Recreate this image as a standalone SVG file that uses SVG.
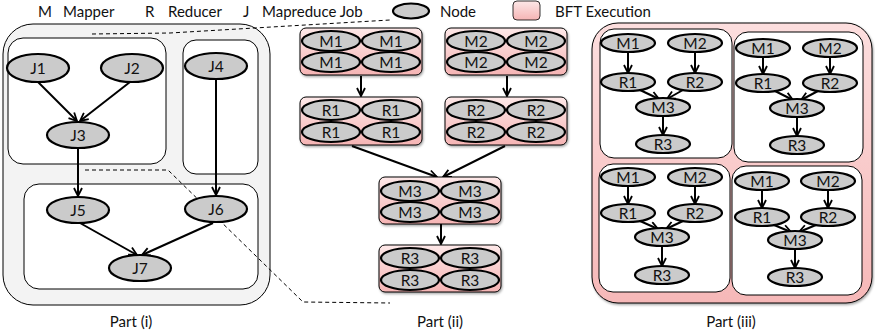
<svg xmlns="http://www.w3.org/2000/svg" width="875" height="333" viewBox="0 0 875 333">
  <style>
    text { font-family: Lato, "Open Sans", "Liberation Sans", sans-serif; fill: #111; }
    .hdr { font-size: 15px; }
    .cap { font-size: 15px; text-anchor: middle; }
    .lbl { font-size: 15.5px; text-anchor: middle; dominant-baseline: central; }
    .lbl2 { font-size: 15.5px; text-anchor: middle; dominant-baseline: central; }
    .node { fill: #cbcbcb; stroke: #000; stroke-width: 2.2; }
    .panel { fill: #fff; stroke: #000; stroke-width: 1; }
    .outer1 { fill: #f3f3f3; stroke: #000; stroke-width: 1; }
    .bft { fill: url(#pink); stroke: #000; stroke-width: 1; filter: url(#shadow); }
    .edge { stroke: #000; stroke-width: 2; fill: none; marker-end: url(#arrow); }
    .dash { stroke: #000; stroke-width: 1; fill: none; stroke-dasharray: 4 3; }
  </style>
  <defs>
    <linearGradient id="pink" x1="0" y1="0" x2="0" y2="1">
      <stop offset="0" stop-color="#fde8e8"/>
      <stop offset="1" stop-color="#f5b4b4"/>
    </linearGradient>
    <linearGradient id="pinkBig" x1="0" y1="0" x2="0" y2="1">
      <stop offset="0" stop-color="#fcdede"/>
      <stop offset="1" stop-color="#f6b8b8"/>
    </linearGradient>
    <filter id="shadow" x="-10%" y="-10%" width="125%" height="130%">
      <feDropShadow dx="1" dy="1.5" stdDeviation="1" flood-color="#000" flood-opacity="0.35"/>
    </filter>
    <marker id="arrow" viewBox="0 0 10 10" refX="9" refY="5" markerWidth="10" markerHeight="10" markerUnits="userSpaceOnUse" orient="auto">
      <path d="M1,1 L9,5 L1,9" fill="none" stroke="#000" stroke-width="1.8"/>
    </marker>
  </defs>

  <!-- legend -->
  <g id="legend">
    <text class="hdr" x="38" y="17">M</text>
    <text class="hdr" x="63" y="17">Mapper</text>
    <text class="hdr" x="145" y="17">R</text>
    <text class="hdr" x="168" y="17">Reducer</text>
    <text class="hdr" x="243" y="17">J</text>
    <text class="hdr" x="262" y="17">Mapreduce Job</text>
    <ellipse class="node" cx="411" cy="11" rx="18" ry="7.5"/>
    <text class="hdr" x="440" y="17">Node</text>
    <rect x="513" y="1" width="27" height="19" rx="4" fill="url(#pink)" stroke="#000" stroke-width="0.8"/>
    <text class="hdr" x="555" y="17">BFT Execution</text>
  </g>

  <!-- Part (i): job DAG -->
  <g id="part1">
    <rect class="outer1" x="3" y="24" width="267" height="281" rx="30"/>
    <rect class="panel" x="8" y="38" width="158" height="126" rx="15"/>
    <rect class="panel" x="183" y="40" width="75" height="134" rx="13"/>
    <rect class="panel" x="24" y="184" width="234" height="105" rx="15"/>
  </g>

  <!-- zoom guide lines -->
  <g id="guides">
    <polyline class="dash" points="92,34 170,33 390,20"/>
    <polyline class="dash" points="85,170 168,170 303,302 390,303"/>
  </g>

  <g id="connectors">
    <!-- part (i) -->
    <line class="edge" x1="38" y1="82" x2="77" y2="121"/>
    <line class="edge" x1="130" y1="82" x2="80" y2="121"/>
    <line class="edge" x1="78" y1="148" x2="78" y2="196"/>
    <line class="edge" x1="216" y1="79" x2="216" y2="195"/>
    <line class="edge" x1="80" y1="223" x2="137" y2="255"/>
    <line class="edge" x1="213" y1="223" x2="142" y2="255"/>
    <!-- part (ii) -->
    <line class="edge" x1="361" y1="76" x2="361" y2="96"/>
    <line class="edge" x1="507" y1="76" x2="507" y2="96"/>
    <line class="edge" x1="352" y1="146" x2="437" y2="177"/>
    <line class="edge" x1="505" y1="146" x2="443" y2="177"/>
    <line class="edge" x1="441" y1="224" x2="441" y2="244"/>
  </g>

  <g id="J1"><ellipse class="node" cx="38" cy="68" rx="31" ry="14"/><text class="lbl" x="38" y="68">J1</text></g>
  <g id="J2"><ellipse class="node" cx="132" cy="68" rx="31" ry="14"/><text class="lbl" x="132" y="68">J2</text></g>
  <g id="J3"><ellipse class="node" cx="78" cy="135" rx="31" ry="13"/><text class="lbl" x="78" y="135">J3</text></g>
  <g id="J4"><ellipse class="node" cx="216" cy="66" rx="31" ry="13"/><text class="lbl" x="216" y="66">J4</text></g>
  <g id="J5"><ellipse class="node" cx="78" cy="210" rx="31" ry="13"/><text class="lbl" x="78" y="210">J5</text></g>
  <g id="J6"><ellipse class="node" cx="216" cy="209" rx="31" ry="13"/><text class="lbl" x="216" y="209">J6</text></g>
  <g id="J7"><ellipse class="node" cx="140" cy="268" rx="31" ry="13"/><text class="lbl" x="140" y="268">J7</text></g>

  <!-- Part (ii): BFT replicas -->
  <g id="M1x4">
    <rect class="bft" x="300" y="28" width="122" height="47" rx="6"/>
    <ellipse class="node" cx="331" cy="41" rx="29" ry="10"/><text class="lbl2" x="331" y="41">M1</text>
    <ellipse class="node" cx="391" cy="41" rx="29" ry="10"/><text class="lbl2" x="391" y="41">M1</text>
    <ellipse class="node" cx="331" cy="62" rx="29" ry="10"/><text class="lbl2" x="331" y="62">M1</text>
    <ellipse class="node" cx="391" cy="62" rx="29" ry="10"/><text class="lbl2" x="391" y="62">M1</text>
  </g>
  <g id="M2x4">
    <rect class="bft" x="445" y="28" width="122" height="47" rx="6"/>
    <ellipse class="node" cx="476" cy="41" rx="29" ry="10"/><text class="lbl2" x="476" y="41">M2</text>
    <ellipse class="node" cx="536" cy="41" rx="29" ry="10"/><text class="lbl2" x="536" y="41">M2</text>
    <ellipse class="node" cx="476" cy="62" rx="29" ry="10"/><text class="lbl2" x="476" y="62">M2</text>
    <ellipse class="node" cx="536" cy="62" rx="29" ry="10"/><text class="lbl2" x="536" y="62">M2</text>
  </g>
  <g id="R1x4">
    <rect class="bft" x="300" y="97" width="122" height="48" rx="6"/>
    <ellipse class="node" cx="331" cy="110" rx="29" ry="10"/><text class="lbl2" x="331" y="110">R1</text>
    <ellipse class="node" cx="391" cy="110" rx="29" ry="10"/><text class="lbl2" x="391" y="110">R1</text>
    <ellipse class="node" cx="331" cy="132" rx="29" ry="10"/><text class="lbl2" x="331" y="132">R1</text>
    <ellipse class="node" cx="391" cy="132" rx="29" ry="10"/><text class="lbl2" x="391" y="132">R1</text>
  </g>
  <g id="R2x4">
    <rect class="bft" x="445" y="97" width="122" height="48" rx="6"/>
    <ellipse class="node" cx="476" cy="110" rx="29" ry="10"/><text class="lbl2" x="476" y="110">R2</text>
    <ellipse class="node" cx="536" cy="110" rx="29" ry="10"/><text class="lbl2" x="536" y="110">R2</text>
    <ellipse class="node" cx="476" cy="132" rx="29" ry="10"/><text class="lbl2" x="476" y="132">R2</text>
    <ellipse class="node" cx="536" cy="132" rx="29" ry="10"/><text class="lbl2" x="536" y="132">R2</text>
  </g>
  <g id="M3x4">
    <rect class="bft" x="379" y="177" width="122" height="47" rx="6"/>
    <ellipse class="node" cx="410" cy="191" rx="29" ry="10"/><text class="lbl2" x="410" y="191">M3</text>
    <ellipse class="node" cx="470" cy="191" rx="29" ry="10"/><text class="lbl2" x="470" y="191">M3</text>
    <ellipse class="node" cx="410" cy="212" rx="29" ry="10"/><text class="lbl2" x="410" y="212">M3</text>
    <ellipse class="node" cx="470" cy="212" rx="29" ry="10"/><text class="lbl2" x="470" y="212">M3</text>
  </g>
  <g id="R3x4">
    <rect class="bft" x="379" y="245" width="122" height="47" rx="6"/>
    <ellipse class="node" cx="410" cy="258" rx="29" ry="10"/><text class="lbl2" x="410" y="258">R3</text>
    <ellipse class="node" cx="470" cy="258" rx="29" ry="10"/><text class="lbl2" x="470" y="258">R3</text>
    <ellipse class="node" cx="410" cy="280" rx="29" ry="10"/><text class="lbl2" x="410" y="280">R3</text>
    <ellipse class="node" cx="470" cy="280" rx="29" ry="10"/><text class="lbl2" x="470" y="280">R3</text>
  </g>

  <!-- Part (iii): four replicated pipelines -->
  <g id="part3">
    <rect x="592" y="23" width="280" height="280" rx="26" fill="url(#pinkBig)" stroke="#000" stroke-width="1" filter="url(#shadow)"/>
    <rect class="panel" x="600" y="29" width="132" height="129" rx="14"/>
    <rect class="panel" x="734" y="32" width="129" height="130" rx="14"/>
    <rect class="panel" x="599" y="164" width="131" height="128" rx="14"/>
    <rect class="panel" x="732" y="166" width="130" height="129" rx="14"/>
  </g>

  <g id="pipe-tl">
    <line class="edge" x1="628" y1="52" x2="628" y2="73"/>
    <line class="edge" x1="695" y1="52" x2="695" y2="73"/>
    <line class="edge" x1="640" y1="90" x2="659" y2="99"/>
    <line class="edge" x1="683" y1="90" x2="667" y2="99"/>
    <line class="edge" x1="663" y1="116" x2="663" y2="135"/>
    <ellipse class="node" cx="628" cy="43" rx="27" ry="9"/><text class="lbl2" x="628" y="43">M1</text>
    <ellipse class="node" cx="695" cy="43" rx="27" ry="9"/><text class="lbl2" x="695" y="43">M2</text>
    <ellipse class="node" cx="628" cy="82" rx="27" ry="9"/><text class="lbl2" x="628" y="82">R1</text>
    <ellipse class="node" cx="695" cy="82" rx="27" ry="9"/><text class="lbl2" x="695" y="82">R2</text>
    <ellipse class="node" cx="663" cy="107" rx="27" ry="9"/><text class="lbl2" x="663" y="107">M3</text>
    <ellipse class="node" cx="663" cy="144" rx="27" ry="9"/><text class="lbl2" x="663" y="144">R3</text>
  </g>
  <g id="pipe-tr">
    <line class="edge" x1="763" y1="57" x2="763" y2="74"/>
    <line class="edge" x1="830" y1="57" x2="830" y2="74"/>
    <line class="edge" x1="775" y1="91" x2="793" y2="100"/>
    <line class="edge" x1="818" y1="91" x2="801" y2="100"/>
    <line class="edge" x1="797" y1="117" x2="797" y2="136"/>
    <ellipse class="node" cx="763" cy="48" rx="27" ry="9"/><text class="lbl2" x="763" y="48">M1</text>
    <ellipse class="node" cx="830" cy="48" rx="27" ry="9"/><text class="lbl2" x="830" y="48">M2</text>
    <ellipse class="node" cx="763" cy="83" rx="27" ry="9"/><text class="lbl2" x="763" y="83">R1</text>
    <ellipse class="node" cx="830" cy="83" rx="27" ry="9"/><text class="lbl2" x="830" y="83">R2</text>
    <ellipse class="node" cx="797" cy="108" rx="27" ry="9"/><text class="lbl2" x="797" y="108">M3</text>
    <ellipse class="node" cx="797" cy="145" rx="27" ry="9"/><text class="lbl2" x="797" y="145">R3</text>
  </g>
  <g id="pipe-bl">
    <line class="edge" x1="628" y1="186" x2="628" y2="204"/>
    <line class="edge" x1="695" y1="186" x2="695" y2="204"/>
    <line class="edge" x1="640" y1="221" x2="658" y2="229"/>
    <line class="edge" x1="683" y1="221" x2="666" y2="229"/>
    <line class="edge" x1="662" y1="246" x2="662" y2="266"/>
    <ellipse class="node" cx="628" cy="177" rx="27" ry="9"/><text class="lbl2" x="628" y="177">M1</text>
    <ellipse class="node" cx="695" cy="177" rx="27" ry="9"/><text class="lbl2" x="695" y="177">M2</text>
    <ellipse class="node" cx="628" cy="213" rx="27" ry="9"/><text class="lbl2" x="628" y="213">R1</text>
    <ellipse class="node" cx="695" cy="213" rx="27" ry="9"/><text class="lbl2" x="695" y="213">R2</text>
    <ellipse class="node" cx="662" cy="237" rx="27" ry="9"/><text class="lbl2" x="662" y="237">M3</text>
    <ellipse class="node" cx="662" cy="275" rx="27" ry="9"/><text class="lbl2" x="662" y="275">R3</text>
  </g>
  <g id="pipe-br">
    <line class="edge" x1="762" y1="190" x2="762" y2="208"/>
    <line class="edge" x1="828" y1="190" x2="828" y2="208"/>
    <line class="edge" x1="774" y1="225" x2="791" y2="232"/>
    <line class="edge" x1="816" y1="225" x2="799" y2="232"/>
    <line class="edge" x1="795" y1="249" x2="795" y2="268"/>
    <ellipse class="node" cx="762" cy="181" rx="27" ry="9"/><text class="lbl2" x="762" y="181">M1</text>
    <ellipse class="node" cx="828" cy="181" rx="27" ry="9"/><text class="lbl2" x="828" y="181">M2</text>
    <ellipse class="node" cx="762" cy="217" rx="27" ry="9"/><text class="lbl2" x="762" y="217">R1</text>
    <ellipse class="node" cx="828" cy="217" rx="27" ry="9"/><text class="lbl2" x="828" y="217">R2</text>
    <ellipse class="node" cx="795" cy="240" rx="27" ry="9"/><text class="lbl2" x="795" y="240">M3</text>
    <ellipse class="node" cx="795" cy="277" rx="27" ry="9"/><text class="lbl2" x="795" y="277">R3</text>
  </g>

  <!-- captions -->
  <g id="captions">
    <text class="cap" x="131" y="327">Part (i)</text>
    <text class="cap" x="440" y="327">Part (ii)</text>
    <text class="cap" x="731" y="327">Part (iii)</text>
  </g>
</svg>
